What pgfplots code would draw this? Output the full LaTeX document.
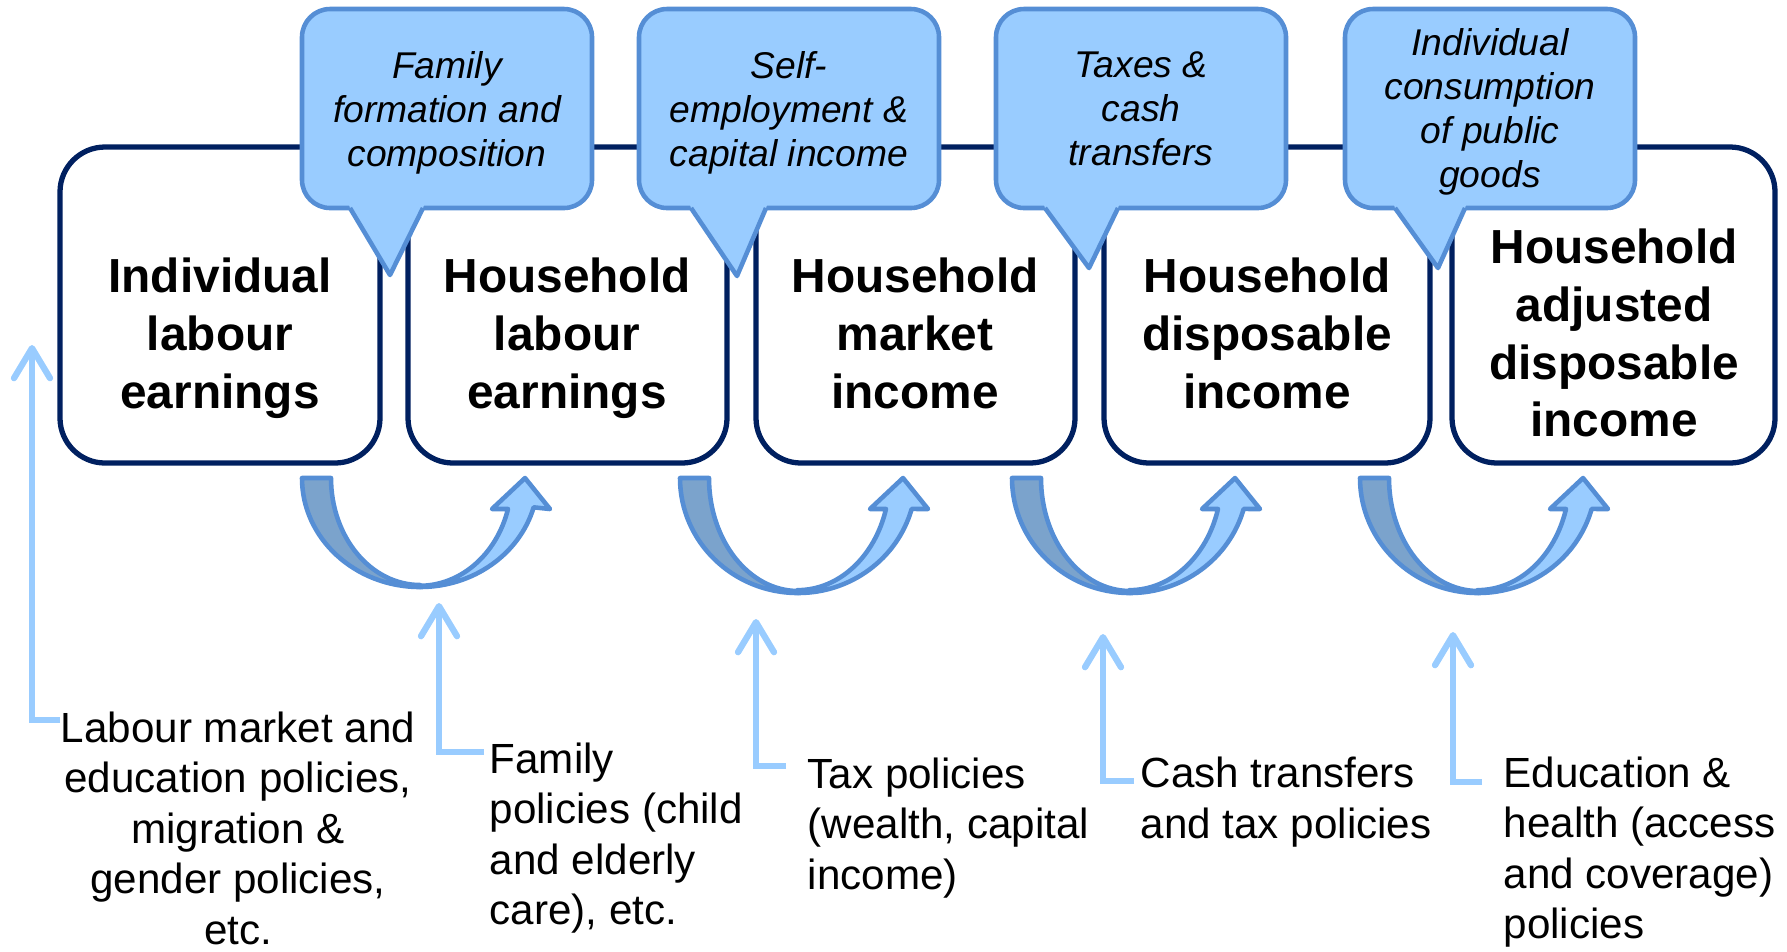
\documentclass[border=0pt]{standalone}
\usepackage{pgfplots}
\pgfplotsset{compat=1.18}
\usetikzlibrary{arrows.meta}
\usepackage{fontspec}
\setmainfont{Liberation Sans}

\definecolor{navy}{RGB}{0,32,96}
\definecolor{cfill}{RGB}{153,204,255}
\definecolor{cborder}{RGB}{85,142,213}
\definecolor{dfill}{RGB}{123,163,204}
\definecolor{conn}{RGB}{153,204,255}

\tikzset{
  boxtxt/.style={font=\fontsize{13.6}{16.45}\selectfont\bfseries, align=center, inner sep=0pt},
  caltxt/.style={font=\fontsize{10.6}{12.52}\selectfont\itshape, align=center, inner sep=0pt},
  poltxt/.style={font=\fontsize{12}{14.37}\selectfont, inner sep=0pt},
  connline/.style={conn, line width=1.8pt, line join=miter,
    -{Straight Barb[length=3mm, width=3.6mm, round]}},
}

% box: x1, x2
\newcommand{\incbox}[2]{%
  \draw[navy, line width=1.5pt, rounded corners=12.8pt, fill=white] (#1,147) rectangle (#2,463);}
% callout: x1, x2, base left, base right, tip x, tip y
\newcommand{\callout}[6]{%
  \filldraw[fill=cfill, draw=cborder, line width=1.3pt, rounded corners=8pt] (#1,9) rectangle (#2,208);
  \fill[cfill] ({#3-3},199) -- (#3,208) -- (#5,#6) -- (#4,208) -- ({#4+3},199) -- cycle;
  \draw[cborder, line width=1.3pt, line join=round] (#3,208) -- (#5,#6) -- (#4,208);}
% u-turn arrow: left x of tail, outer vertical radius in mm
\newcommand{\uarrow}[2]{%
  \filldraw[fill=dfill, draw=cborder, line width=1.3pt, line join=round]
    (#1,478) -- ({#1+29},478)
    arc[start angle=180, end angle=270, x radius=8.9mm, y radius={(#2-0.2)*1mm}]
    -- ({#1+118},{478+#2*10})
    arc[start angle=270, end angle=180, x radius=11.8mm, y radius={#2*1mm}] -- cycle;
  \filldraw[fill=cfill, draw=cborder, line width=1.3pt, line join=round]
    ({#1+118},{478+#2*10})
    arc[start angle=270, end angle=344.4, x radius=11.8mm, y radius={#2*1mm}]
    -- ({#1+248},509) -- ({#1+223},478) -- ({#1+190},509) -- ({#1+206},509)
    arc[start angle=344, end angle=270, x radius=9.2mm, y radius={(#2-0.3)*1mm}] -- cycle;}

\begin{document}
\begin{tikzpicture}
\begin{axis}[
  width=17.87cm, height=9.51cm, scale only axis,
  xmin=0, xmax=1787, ymin=0, ymax=951, y dir=reverse,
  enlargelimits=false, hide axis, clip=false,
]
\path (0,0) rectangle (1787,951);

% income boxes
\incbox{60}{380}
\incbox{408}{727}
\incbox{756}{1075}
\incbox{1104}{1430}
\incbox{1452}{1775}

% callouts
\callout{302}{592}{350}{423}{390}{275}
\callout{639}{939}{691}{766}{737}{276}
\callout{996}{1286}{1045}{1118}{1089}{268}
\callout{1345}{1635}{1395}{1465}{1438}{268}

% u-turn arrows
\uarrow{302}{10.9}
\uarrow{680}{11.5}
\uarrow{1012}{11.5}
\uarrow{1360}{11.5}

% policy connectors
\addplot[connline, no marks] coordinates {(60,720) (32,720) (32,345)};
\addplot[connline, no marks] coordinates {(484,752) (439,752) (439,603)};
\addplot[connline, no marks] coordinates {(786,766) (756,766) (756,619)};
\addplot[connline, no marks] coordinates {(1134,781) (1103,781) (1103,634)};
\addplot[connline, no marks] coordinates {(1482,782) (1453,782) (1453,632)};

% box texts
\node[boxtxt] at (220,338.5) {Individual\\labour\\earnings};
\node[boxtxt] at (567,338.5) {Household\\labour\\earnings};
\node[boxtxt] at (915,333.5) {Household\\market\\income};
\node[boxtxt] at (1267,333.5) {Household\\disposable\\income};
\node[boxtxt] at (1614,333) {Household\\adjusted\\disposable\\income};

% callout texts
\node[caltxt] at (447,112.5) {Family\\formation and\\composition};
\node[caltxt] at (789,112.5) {Self-\\employment \&\\capital income};
\node[caltxt] at (1141,108.5) {Taxes \&\\cash\\transfers};
\node[caltxt] at (1490,112) {Individual\\consumption\\of public\\goods};

% policy texts
\node[poltxt, align=center] at (238,828) {Labour market and\\education policies,\\migration \&\\gender policies,\\etc.};
\node[poltxt, align=left, anchor=west] at (489,838) {Family\\policies (child\\and elderly\\care), etc.};
\node[poltxt, align=left, anchor=west] at (807,828) {Tax policies\\(wealth, capital\\income)};
\node[poltxt, align=left, anchor=west] at (1140,802) {Cash transfers\\and tax policies};
\node[poltxt, align=left, anchor=west] at (1503,852) {Education \&\\health (access\\and coverage)\\policies};
\end{axis}
\end{tikzpicture}
\end{document}
